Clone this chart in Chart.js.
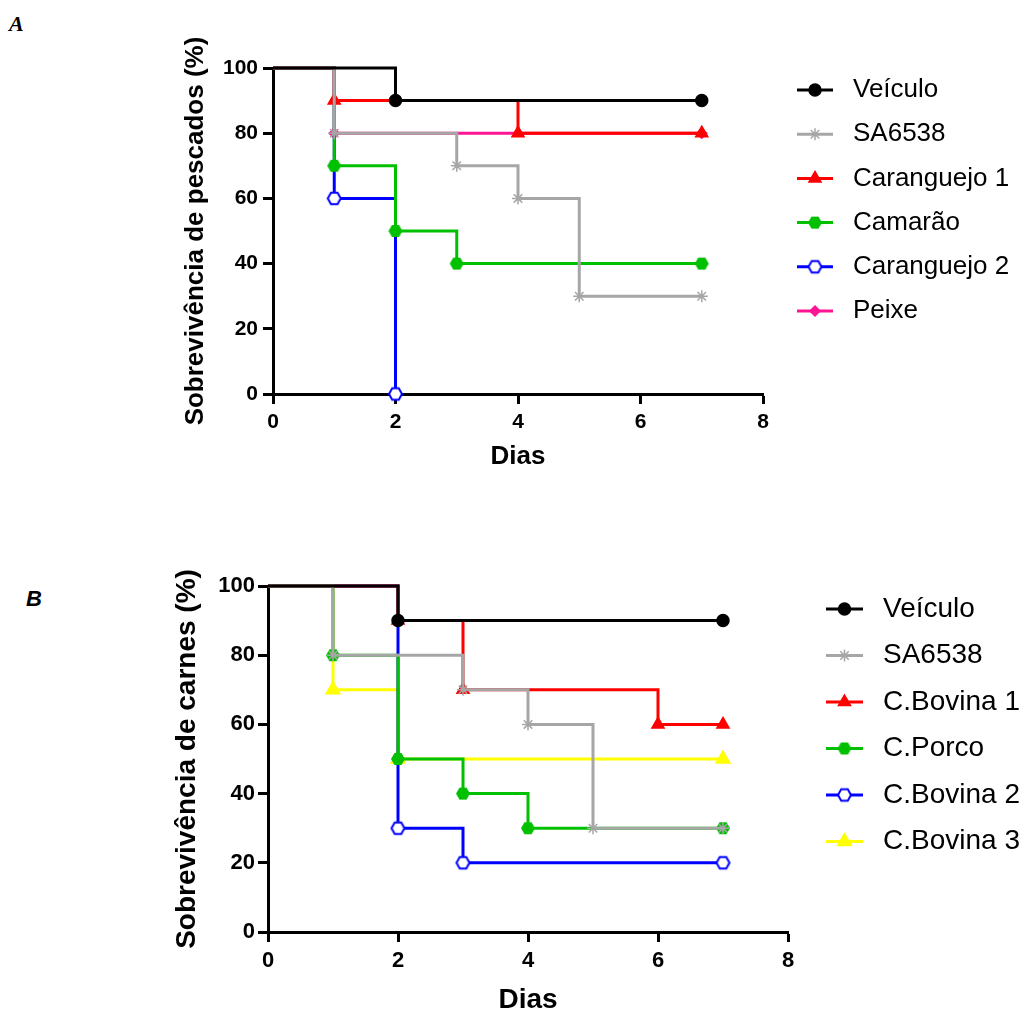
<!DOCTYPE html>
<html lang="pt">
<head>
  <meta charset="UTF-8" />
  <title>Sobrevivência - pescados e carnes</title>
  <script src="https://cdn.jsdelivr.net/npm/chart.js"></script>
  <style>
    body {
      margin: 0;
      background: #fff;
      width: 1023px;
      height: 1011px;
      overflow: hidden;
      position: relative;
    }
    #chartA { position: absolute; left: 0; top: 0; }
    #chartB { position: absolute; left: 0; top: 500px; }
    .painel {
      position: absolute;
      font-weight: bold;
      font-style: italic;
      font-size: 22px;
      line-height: 1;
    }
    #rotA { left: 9px; top: 13px; font-family: 'Liberation Serif', 'Times New Roman', serif; }
    #rotB { left: 26px; top: 588px; font-family: 'Liberation Sans', Arial, sans-serif; }
  </style>
</head>
<body>
  <div class="painel" id="rotA">A</div>
  <div class="painel" id="rotB">B</div>
  <canvas id="chartA" width="1023" height="500"></canvas>
  <canvas id="chartB" width="1023" height="560"></canvas>

  <script>
    // eixos
    const ticksX = [0, 2, 4, 6, 8];
    const ticksY = [0, 20, 40, 60, 80, 100];

    // Painel A - pescados
    const seriesA = ['Veículo', 'SA6538', 'Caranguejo 1', 'Camarão', 'Caranguejo 2', 'Peixe'];
    const diasA_veiculo = [0, 2, 7];          const sobrevA_veiculo = [100, 90, 90];
    const diasA_sa6538  = [0, 1, 3, 4, 5, 7]; const sobrevA_sa6538  = [100, 80, 70, 60, 30, 30];
    const diasA_carang1 = [0, 1, 4, 7];       const sobrevA_carang1 = [100, 90, 80, 80];
    const diasA_camarao = [0, 1, 2, 3, 7];    const sobrevA_camarao = [100, 70, 50, 40, 40];
    const diasA_carang2 = [0, 1, 2];          const sobrevA_carang2 = [100, 60, 0];
    const diasA_peixe   = [0, 1, 7];          const sobrevA_peixe   = [100, 80, 80];

    // Painel B - carnes
    const seriesB = ['Veículo', 'SA6538', 'C.Bovina 1', 'C.Porco', 'C.Bovina 2', 'C.Bovina 3'];
    const diasB_veiculo = [0, 2, 7];          const sobrevB_veiculo = [100, 90, 90];
    const diasB_sa6538  = [0, 1, 3, 4, 5, 7]; const sobrevB_sa6538  = [100, 80, 70, 60, 30, 30];
    const diasB_bovina1 = [0, 2, 3, 6, 7];    const sobrevB_bovina1 = [100, 90, 70, 60, 60];
    const diasB_porco   = [0, 1, 2, 3, 4, 7]; const sobrevB_porco   = [100, 80, 50, 40, 30, 30];
    const diasB_bovina2 = [0, 2, 3, 7];       const sobrevB_bovina2 = [100, 30, 20, 20];
    const diasB_bovina3 = [0, 1, 2, 7];       const sobrevB_bovina3 = [100, 70, 50, 50];

    const FONTE = "'Liberation Sans', Arial, Helvetica, sans-serif";

    // hexagono como imagem de ponto (cheio ou vazado)
    function hexagono(cor, cheio, r) {
      const c = document.createElement('canvas');
      const s = Math.ceil(r * 2 + 4);
      c.width = s; c.height = s;
      const g = c.getContext('2d');
      g.beginPath();
      for (let i = 0; i < 6; i++) {
        const a = i * Math.PI / 3;
        g.lineTo(s / 2 + r * Math.cos(a), s / 2 + r * Math.sin(a));
      }
      g.closePath();
      g.fillStyle = cheio ? cor : '#fff';
      g.fill();
      if (!cheio) {
        g.lineWidth = 2;
        g.strokeStyle = cor;
        g.stroke();
      }
      return c;
    }

    function montaDatasets(nomes, dias, valores, cores, estilos, raios) {
      return nomes.map((nome, i) => ({
        label: nome,
        data: dias[i].map((d, j) => ({ x: d, y: valores[i][j] })),
        borderColor: cores[i],
        backgroundColor: cores[i],
        borderWidth: 3,
        stepped: true,
        tension: 0,
        clip: false,
        pointStyle: estilos[i],
        pointRadius: ctx => ctx.dataIndex === 0 ? 0 : raios[i],
        pointHoverRadius: ctx => ctx.dataIndex === 0 ? 0 : raios[i],
        pointBorderWidth: 1.5,
        pointBorderColor: cores[i],
        pointBackgroundColor: cores[i],
        raioLegenda: raios[i]
      }));
    }

    // legenda ao lado: linha + marcador + texto
    const legendaLateral = {
      id: 'legendaLateral',
      afterDraw(chart, args, opts) {
        const ctx = chart.ctx;
        ctx.save();
        chart.data.datasets.forEach((ds, i) => {
          const y = opts.y0 + i * opts.passo;
          ctx.strokeStyle = ds.borderColor;
          ctx.lineWidth = 3;
          ctx.beginPath();
          ctx.moveTo(opts.x0, y);
          ctx.lineTo(opts.x1, y);
          ctx.stroke();
          ctx.fillStyle = ds.borderColor;
          ctx.lineWidth = 1.5;
          Chart.helpers.drawPoint(ctx, {
            pointStyle: ds.pointStyle, radius: ds.raioLegenda, borderWidth: 1.5, rotation: 0
          }, (opts.x0 + opts.x1) / 2, y);
          ctx.fillStyle = '#000';
          ctx.font = opts.fonte;
          ctx.textAlign = 'left';
          ctx.textBaseline = 'middle';
          ctx.fillText(ds.label, opts.xt, y);
        });
        ctx.restore();
      }
    };

    function escalas(cfg) {
      const eixo = {
        border: { display: true, color: '#000', width: 3 },
        grid: { display: true, drawOnChartArea: false, drawTicks: true, tickLength: 10, tickWidth: 3, tickColor: '#000' }
      };
      return {
        x: {
          type: 'linear', min: 0, max: 8,
          afterBuildTicks: s => { s.ticks = ticksX.map(v => ({ value: v })); },
          afterFit: s => { s.height = cfg.altX; },
          border: eixo.border, grid: eixo.grid,
          ticks: { color: '#000', padding: cfg.padTickX, maxRotation: 0, autoSkip: false,
                   font: { family: FONTE, size: cfg.fTick, weight: 'bold' } },
          title: { display: true, text: 'Dias', color: '#000', padding: { top: 0, bottom: 4 },
                   font: { family: FONTE, size: cfg.fTitulo, weight: 'bold' } }
        },
        y: {
          type: 'linear', min: 0, max: 100,
          afterBuildTicks: s => { s.ticks = ticksY.map(v => ({ value: v })); },
          afterFit: s => { s.width = cfg.largY; },
          border: eixo.border, grid: eixo.grid,
          ticks: { color: '#000', padding: cfg.padTickY, autoSkip: false,
                   font: { family: FONTE, size: cfg.fTick, weight: 'bold' } },
          title: { display: true, text: cfg.tituloY, color: '#000', padding: { top: 4, bottom: 0 },
                   font: { family: FONTE, size: cfg.fTitulo, weight: 'bold' } }
        }
      };
    }

    // ---- grafico A ----
    const coresA = ['#000000', '#A6A6A6', '#FF0000', '#00C000', '#0000FF', '#FF1493'];
    const estilosA = ['circle', 'star', 'triangle', hexagono('#00C000', true, 7), hexagono('#0000FF', false, 6.5), 'rectRot'];
    const raiosA = [6, 6, 7, 7, 7, 5];

    new Chart(document.getElementById('chartA'), {
      type: 'line',
      data: {
        datasets: montaDatasets(seriesA,
          [diasA_veiculo, diasA_sa6538, diasA_carang1, diasA_camarao, diasA_carang2, diasA_peixe],
          [sobrevA_veiculo, sobrevA_sa6538, sobrevA_carang1, sobrevA_camarao, sobrevA_carang2, sobrevA_peixe],
          coresA, estilosA, raiosA)
      },
      options: {
        responsive: false,
        animation: false,
        layout: { padding: { left: 176, right: 260, top: 68, bottom: 24 } },
        scales: escalas({ altX: 82, largY: 97, padTickX: 6, padTickY: 5, fTick: 21, fTitulo: 26,
                          tituloY: 'Sobrevivência de pescados (%)' }),
        plugins: {
          legend: { display: false },
          tooltip: { enabled: false },
          legendaLateral: { x0: 797, x1: 833, xt: 853, y0: 90, passo: 44.2, fonte: '26px ' + FONTE }
        }
      },
      plugins: [legendaLateral]
    });

    // ---- grafico B ----
    const coresB = ['#000000', '#A6A6A6', '#FF0000', '#00C000', '#0000FF', '#FFFF00'];
    const estilosB = ['circle', 'star', 'triangle', hexagono('#00C000', true, 7), hexagono('#0000FF', false, 6.5), 'triangle'];
    const raiosB = [6, 6, 7, 7, 7, 8];

    new Chart(document.getElementById('chartB'), {
      type: 'line',
      data: {
        datasets: montaDatasets(seriesB,
          [diasB_veiculo, diasB_sa6538, diasB_bovina1, diasB_porco, diasB_bovina2, diasB_bovina3],
          [sobrevB_veiculo, sobrevB_sa6538, sobrevB_bovina1, sobrevB_porco, sobrevB_bovina2, sobrevB_bovina3],
          coresB, estilosB, raiosB)
      },
      options: {
        responsive: false,
        animation: false,
        layout: { padding: { left: 166, right: 235, top: 86, bottom: 39 } },
        scales: escalas({ altX: 89, largY: 102, padTickX: 6, padTickY: 3, fTick: 22, fTitulo: 28,
                          tituloY: 'Sobrevivência de carnes (%)' }),
        plugins: {
          legend: { display: false },
          tooltip: { enabled: false },
          legendaLateral: { x0: 826, x1: 863, xt: 883, y0: 109, passo: 46.5, fonte: '28px ' + FONTE }
        }
      },
      plugins: [legendaLateral]
    });
  </script>
</body>
</html>
